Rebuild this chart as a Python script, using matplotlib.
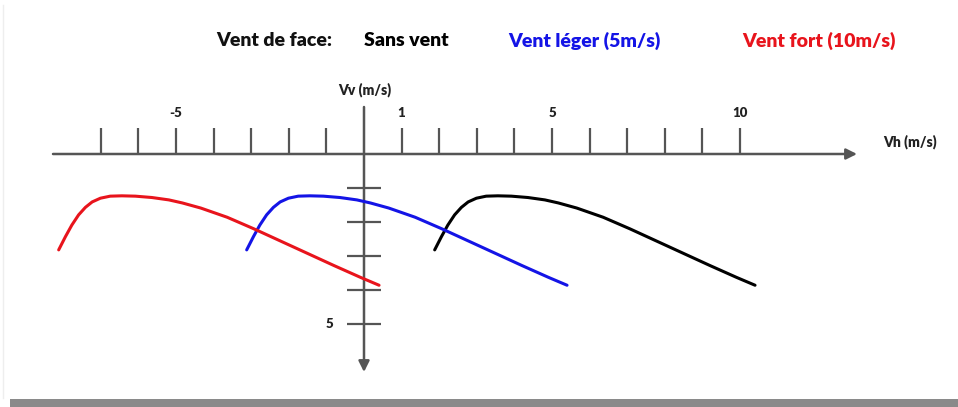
import matplotlib
matplotlib.use("Agg")
import matplotlib.pyplot as plt
import numpy as np

# Polar curve without wind (Vh, Vv) in m/s
vh_calm = [1.88, 2.06, 2.23, 2.41, 2.59, 2.77, 2.99, 3.25, 3.56, 3.92, 4.36, 4.81,
           5.17, 5.66, 6.36, 7.07, 7.78, 8.49, 9.20, 9.91, 10.40]
vv_calm = [2.82, 2.43, 2.09, 1.79, 1.57, 1.41, 1.30, 1.24, 1.23, 1.24, 1.28, 1.35,
           1.44, 1.59, 1.86, 2.20, 2.56, 2.92, 3.28, 3.63, 3.86]

headwinds = [0, 5, 10]
series_labels = ["Sans vent", "Vent léger (5m/s)", "Vent fort (10m/s)"]
series_colors = ["#000000", "#1414e6", "#e8141c"]

h_ticks = [-7, -6, -5, -4, -3, -2, -1, 1, 2, 3, 4, 5, 6, 7, 8, 9, 10]
h_ticklabels = {-5: "-5", 1: "1", 5: "5", 10: "10"}
v_ticks = [1, 2, 3, 4, 5]
v_ticklabels = {5: "5"}

W, H = 958, 407
sx, sy = 37.6, 34.0
x0, y0 = 364, 154

fig = plt.figure(figsize=(W / 100, H / 100), dpi=100)
ax = fig.add_axes([0, 0, 1, 1])
ax.set_xlim(-x0 / sx, (W - x0) / sx)
ax.set_ylim((H - y0) / sy, -y0 / sy)
ax.axis("off")

def px_x(p):
    return (p - x0) / sx

def px_y(p):
    return (p - y0) / sy

axis_col = "#555555"
bold = dict(fontweight="heavy", family=["Lato", "DejaVu Sans"])

# bottom shadow band
ax.add_patch(plt.Rectangle((px_x(10), px_y(399)), (W - 10) / sx, 9 / sy,
                           color="#8a8a8a", lw=0, zorder=0))
ax.plot([px_x(3), px_x(3)], [px_y(5), px_y(398)], color="#eeeeee", lw=1, zorder=0)

# horizontal axis
ax.annotate("", xy=(px_x(857), 0), xytext=(px_x(53), 0),
            arrowprops=dict(arrowstyle="-|>", color=axis_col, lw=1.8,
                            mutation_scale=16, shrinkA=0, shrinkB=0))
# vertical axis
ax.annotate("", xy=(0, px_y(372)), xytext=(0, px_y(107)),
            arrowprops=dict(arrowstyle="-|>", color=axis_col, lw=1.8,
                            mutation_scale=16, shrinkA=0, shrinkB=0))

for t in h_ticks:
    ax.plot([t, t], [0, -26 / sy], color=axis_col, lw=1.6, solid_capstyle="butt")
    if t in h_ticklabels:
        ax.text(t, px_y(113), h_ticklabels[t], ha="center", va="center",
                fontsize=9.5, color="#222222", **bold)
for t in v_ticks:
    ax.plot([-17 / sx, 17 / sx], [t, t], color=axis_col, lw=1.6, solid_capstyle="butt")
    if t in v_ticklabels:
        ax.text(px_x(329), t, v_ticklabels[t], ha="center", va="center",
                fontsize=9.5, color="#222222", **bold)

ax.text(px_x(365), px_y(90), "Vv (m/s)", ha="center", va="center",
        fontsize=10, color="#222222", **bold)
ax.text(px_x(910), px_y(142), "Vh (m/s)", ha="center", va="center",
        fontsize=10, color="#222222", **bold)

# titles
ax.text(px_x(216), px_y(40), "Vent de face:", ha="left", va="center",
        fontsize=14, color="#111111", **bold)
title_x = [364, 508, 742]
for lab, col, tx in zip(series_labels, series_colors, title_x):
    ax.text(px_x(tx), px_y(41), lab, ha="left", va="center",
            fontsize=14, color=col, **bold)

# curves
vh_calm_arr = np.array(vh_calm)
for w, col in zip(headwinds, series_colors):
    ax.plot(vh_calm_arr - w, vv_calm, color=col, lw=2.2,
            solid_capstyle="round", solid_joinstyle="round", zorder=3)

fig.savefig("out.png", dpi=100)
